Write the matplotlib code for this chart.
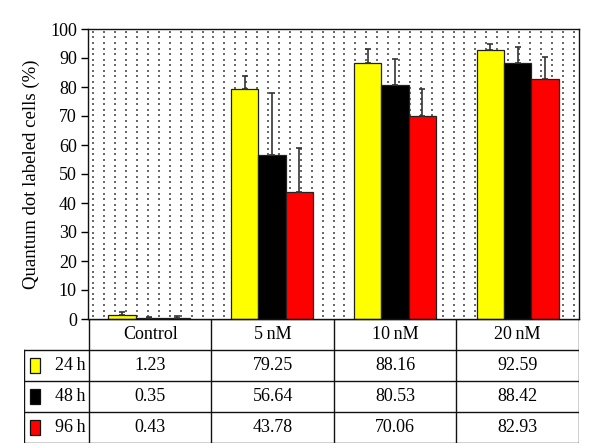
import numpy as np
import matplotlib
matplotlib.use("Agg")
import matplotlib.pyplot as plt
from matplotlib.patches import Rectangle

plt.rcParams['font.family'] = ['Liberation Serif', 'DejaVu Serif']

categories = ["Control", "5\u2009nM", "10\u2009nM", "20\u2009nM"]
series_names = ["24\u2009h", "48\u2009h", "96\u2009h"]
colors = ["#FFFF00", "#000000", "#FF0000"]
values_24h = [1.23, 79.25, 88.16, 92.59]
values_48h = [0.35, 56.64, 80.53, 88.42]
values_96h = [0.43, 43.78, 70.06, 82.93]
errors_24h = [1.1, 4.5, 5.1, 2.1]
errors_48h = [0.3, 21.4, 9.2, 5.4]
errors_96h = [0.6, 15.1, 9.1, 7.3]
yticks = list(range(0, 101, 10))

values = [values_24h, values_48h, values_96h]
errors = [errors_24h, errors_48h, errors_96h]

FS = 13

fig = plt.figure(figsize=(6.0, 4.45), dpi=100)
ax = fig.add_axes([88/600, 1-319/445, (579-88)/600, (319-29)/445])

# dotted background pattern
xs = np.arange(0.5/45, 1, 1/45)
ys = np.arange(0.5/52, 1, 1/52)
XX, YY = np.meshgrid(xs, ys)
ax.scatter(XX.ravel(), YY.ravel(), s=0.6, marker='s', color='#6a6a6a',
           linewidths=0, transform=ax.transAxes, zorder=0)

n = len(categories)
x = np.arange(n) + 0.5
w = 0.222
for k in range(3):
    pos = x + (k - 1) * w
    ax.bar(pos, values[k], width=w, color=colors[k], edgecolor='#222222',
           linewidth=0.9, zorder=2)
    ax.errorbar(pos, values[k], yerr=[np.zeros(n), errors[k]], fmt='none',
                ecolor='#333333', elinewidth=1.2, capsize=2.5, capthick=1.2,
                zorder=3)

ax.set_xlim(0, n)
ax.set_ylim(0, 100)
ax.set_yticks(yticks)
ax.set_yticklabels([str(t) for t in yticks], fontsize=FS)
ax.set_xticks([])
ax.tick_params(axis='y', direction='out', length=5, width=1, pad=3)
for s in ax.spines.values():
    s.set_linewidth(1.0)
    s.set_color('#111111')
ax.set_ylabel("Quantum dot labeled cells (%)", fontsize=13.5, labelpad=7)

# table
lab_w = 65/122.75
tax = fig.add_axes([24/600, 2/445, (579-24)/600, (443-319)/445])
tax.set_xlim(-lab_w, n)
tax.set_ylim(4, 0)
tax.axis('off')
lc = '#111111'
lw = 1.0
# horizontal lines
tax.plot([0, n], [0, 0], color=lc, lw=lw)
for r in [1, 2, 3, 4]:
    tax.plot([-lab_w, n], [r, r], color=lc, lw=lw)
# vertical lines
tax.plot([-lab_w, -lab_w], [1, 4], color=lc, lw=lw)
for c in range(n + 1):
    tax.plot([c, c], [0, 4], color=lc, lw=lw)
for c in range(n):
    tax.text(c + 0.5, 0.5, categories[c], ha='center', va='center', fontsize=FS)
for k in range(3):
    tax.add_patch(Rectangle((-lab_w + 0.045, 1 + k + 0.27), 0.085, 0.46,
                            facecolor=colors[k], edgecolor='#111111', lw=0.9))
    tax.text(-0.03, 1 + k + 0.5, series_names[k], ha='right', va='center', fontsize=FS)
    for c in range(n):
        tax.text(c + 0.5, 1 + k + 0.5, f"{values[k][c]:.2f}", ha='center',
                 va='center', fontsize=FS)

fig.savefig("out.png", dpi=100)
